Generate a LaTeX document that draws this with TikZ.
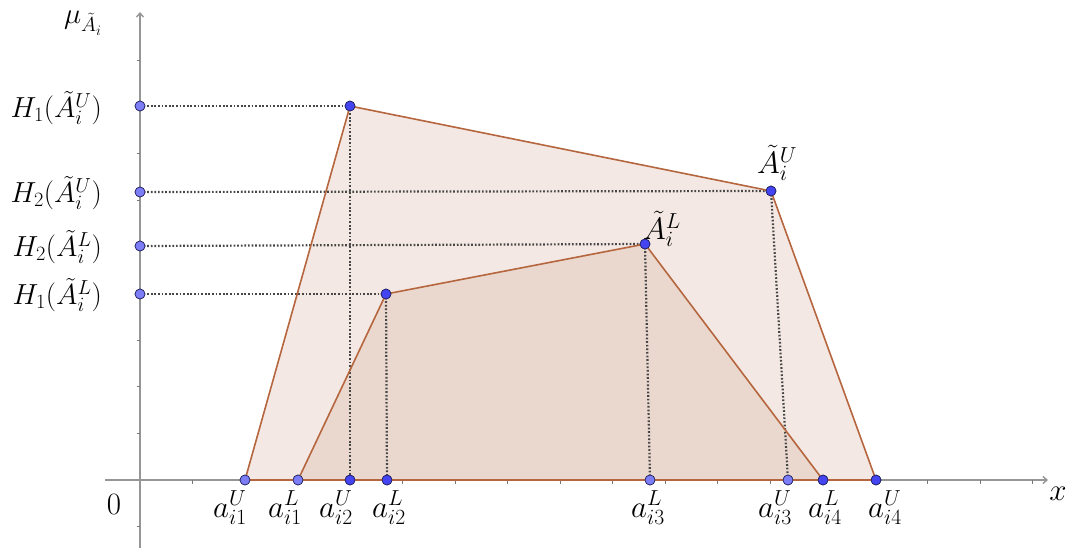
\RequirePackage{fix-cm}
\documentclass[tikz,border=0pt]{standalone}
\usetikzlibrary{arrows.meta}
\definecolor{edgec}{RGB}{182,102,62}
\definecolor{fillU}{RGB}{243,232,227}
\definecolor{fillL}{RGB}{234,216,206}
\definecolor{ptdark}{RGB}{68,68,240}
\definecolor{ptlight}{RGB}{125,125,245}
\definecolor{ptedge}{RGB}{30,30,90}
\definecolor{axc}{RGB}{150,150,150}
\definecolor{dotc}{RGB}{70,70,70}
\begin{document}
\begin{tikzpicture}[x=1pt,y=-1pt,
  axis/.style={draw=axc,line width=1.4pt},
  tickmark/.style={draw=axc!80!black,line width=0.8pt},
  edge/.style={draw=edgec,line width=1.6pt,line join=round},
  guide/.style={draw=dotc,line width=2.2pt,dash pattern=on 1.7pt off 1.9pt},
  ptd/.style={circle,fill=ptdark,draw=ptedge,line width=0.6pt,inner sep=0pt,minimum size=10pt},
  ptl/.style={circle,fill=ptlight,draw=ptedge,line width=0.6pt,inner sep=0pt,minimum size=10pt},
  lbl/.style={inner sep=0pt,font=\fontsize{29}{33}\selectfont},
  albl/.style={inner sep=0pt,font=\fontsize{31}{35}\selectfont}
]
\useasboundingbox (0,0) rectangle (1068,550);
% fills
\fill[fillU] (245,480) -- (350,106) -- (771,191) -- (876,480) -- cycle;
\fill[fillL] (298,480) -- (386,294) -- (645,244) -- (823,480) -- cycle;
% axes
\coordinate (xs) at (105,480);
\coordinate (xe) at (1048,480);
\coordinate (ys) at (140,548);
\coordinate (ye) at (140,12);
\draw[axis,-{Straight Barb[length=4pt,width=7pt]}] (xs) -- (xe);
\draw[axis,-{Straight Barb[length=4pt,width=7pt]}] (ys) -- (ye);
\foreach \k in {1,...,17} \draw[tickmark] ({140+52.5*\k},480) -- ++(0,3.5);
\foreach \k in {-1,1,2,...,9} \draw[tickmark] (140,{480-46.67*\k}) -- ++(-3.5,0);
% points
\node[ptd] (U1) at (350,106) {};
\node[ptd] (U2) at (771,191) {};
\node[ptd] (L1) at (386,294) {};
\node[ptd] (L2) at (645,244) {};
\node[ptl] (HU1) at (140,106) {};
\node[ptl] (HU2) at (140,192) {};
\node[ptl] (HL2) at (140,246) {};
\node[ptl] (HL1) at (140,294) {};
\node[ptl] (aU1) at (245,480) {};
\node[ptl] (aL1) at (298,480) {};
\node[ptd] (aU2) at (350,480) {};
\node[ptd] (aL2) at (387,480) {};
\node[ptl] (aL3) at (650,480) {};
\node[ptl] (aU3) at (788,480) {};
\node[ptd] (aL4) at (823,480) {};
\node[ptd] (aU4) at (876,480) {};
% guides
\draw[guide] (HU1.center) -- (U1.center);
\draw[guide] (HU2.center) -- (U2.center);
\draw[guide] (HL2.center) -- (L2.center);
\draw[guide] (HL1.center) -- (L1.center);
\draw[guide] (U1.center) -- (aU2.center);
\draw[guide] (L1.center) -- (aL2.center);
\draw[guide] (L2.center) -- (aL3.center);
\draw[guide] (U2.center) -- (aU3.center);
% polygon edges
\draw[edge] (aU1.center) -- (U1.center) -- (U2.center) -- (aU4.center) -- cycle;
\draw[edge] (aL1.center) -- (L1.center) -- (L2.center) -- (aL4.center) -- cycle;
% redraw points on top
\foreach \n/\s in {U1/ptd,U2/ptd,L1/ptd,L2/ptd,HU1/ptl,HU2/ptl,HL2/ptl,HL1/ptl,aU1/ptl,aL1/ptl,aU2/ptd,aL2/ptd,aL3/ptl,aU3/ptl,aL4/ptd,aU4/ptd}
  \node[\s] at (\n) {};
% labels
\node[lbl,anchor=east] (tHU1) at (102,108) {$H_1(\tilde A_i^U)$};
\node[lbl,anchor=east] (tHU2) at (102,193) {$H_2(\tilde A_i^U)$};
\node[lbl,anchor=east] (tHL2) at (102,247) {$H_2(\tilde A_i^L)$};
\node[lbl,anchor=east] (tHL1) at (102,295) {$H_1(\tilde A_i^L)$};
\node[lbl] (tmu) at (83,23) {$\mu_{\tilde A_i}$};
\node[albl] (tAU) at (777,163) {$\tilde A_i^U$};
\node[albl] (tAL) at (662,229) {$\tilde A_i^L$};
\node[albl] (t0) at (114,504) {$0$};
\node[albl] (tx) at (1058,494) {$x$};
\node[albl] (taU1) at (230,508) {$a_{i1}^U$};
\node[albl] (taL1) at (285,508) {$a_{i1}^L$};
\node[albl] (taU2) at (336,508) {$a_{i2}^U$};
\node[albl] (taL2) at (389,508) {$a_{i2}^L$};
\node[albl] (taL3) at (648,508) {$a_{i3}^L$};
\node[albl] (taU3) at (775,508) {$a_{i3}^U$};
\node[albl] (taL4) at (825,508) {$a_{i4}^L$};
\node[albl] (taU4) at (885,508) {$a_{i4}^U$};
\end{tikzpicture}
\end{document}
